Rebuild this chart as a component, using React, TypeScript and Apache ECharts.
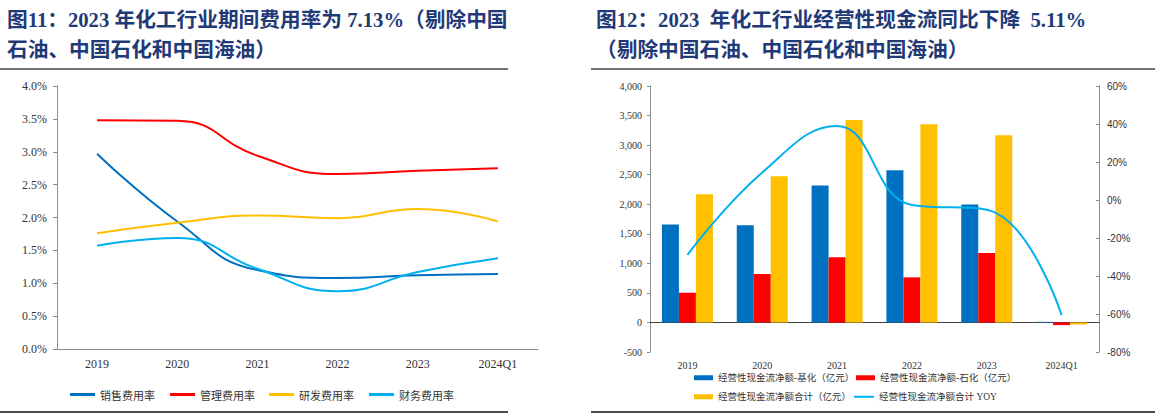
import React, { useEffect, useRef } from "react";
import * as echarts from "echarts";

// ---- Left chart data (期间费用率, %) ----
const leftCategories = ["2019", "2020", "2021", "2022", "2023", "2024Q1"];
const salesRate = [2.97, 1.94, 1.2, 1.08, 1.12, 1.14];
const mgmtRate = [3.48, 3.47, 2.94, 2.66, 2.71, 2.75];
const rdRate = [1.76, 1.92, 2.03, 1.99, 2.13, 1.94];
const finRate = [1.57, 1.69, 1.22, 0.88, 1.17, 1.38];
const leftNames = ["销售费用率", "管理费用率", "研发费用率", "财务费用率"];

// ---- Right chart data (经营性现金流) ----
const rightCategories = ["2019", "2020", "2021", "2022", "2023", "2024Q1"];
const cfBasic = [1656, 1644, 2317, 2576, 1995, 10];
const cfPetro = [503, 819, 1102, 763, 1175, -45];
const cfTotal = [2170, 2475, 3424, 3351, 3165, -35];
const cfYoy = [-28.9, 14.5, 38.9, -2.6, -5.11, -60.5];
const rightNames = [
  "经营性现金流净额-基化（亿元）",
  "经营性现金流净额-石化（亿元）",
  "经营性现金流净额合计（亿元）",
  "经营性现金流净额合计 YOY",
];

const BLUE = "#0070C0";
const RED = "#FF0000";
const YELLOW = "#FFC000";
const CYAN = "#00B0F0";
const TITLE_COLOR = "#1F3A77";
const SERIF = "'Liberation Serif', 'Times New Roman', serif";
const CJK = "'Noto Sans CJK SC', sans-serif";
const TITLE_FONT = "'Liberation Serif', 'Noto Sans CJK SC', serif";
const AXIS_GRAY = "#8c8c8c";

export default function App() {
  const ref = useRef<HTMLDivElement>(null);

  useEffect(() => {
    if (!ref.current) return;
    const chart = echarts.init(ref.current, null, { renderer: "svg" });

    const leftLegend = (name: string, left: number, color: string) => ({
      data: [{ name, itemStyle: { color } }],
      left,
      top: 384,
      icon: "rect",
      itemWidth: 25,
      itemHeight: 3,
      textStyle: { fontSize: 11, color: "#333", fontFamily: CJK },
    });
    const rightLegend = (
      name: string,
      left: number,
      top: number,
      w: number,
      h: number
    ) => ({
      data: [name],
      left,
      top,
      icon: "rect",
      itemWidth: w,
      itemHeight: h,
      textStyle: { fontSize: 9.5, color: "#333", fontFamily: TITLE_FONT },
    });

    const lineSeries = (name: string, data: number[], color: string) => ({
      name,
      type: "line",
      xAxisIndex: 0,
      yAxisIndex: 0,
      data,
      smooth: 0.5,
      symbol: "none",
      lineStyle: { color, width: 2 },
      itemStyle: { color },
    });

    const barSeries = (name: string, data: number[], color: string) => ({
      name,
      type: "bar",
      xAxisIndex: 1,
      yAxisIndex: 1,
      data,
      barWidth: 17,
      barGap: "0%",
      itemStyle: { color },
    });

    const titleStyle = {
      fontFamily: TITLE_FONT,
      fontSize: 20.7,
      fontWeight: "bold",
      color: TITLE_COLOR,
      lineHeight: 30,
    };

    chart.setOption({
      animation: false,
      title: [
        {
          text: "图11：2023 年化工行业期间费用率为 7.13%（剔除中国\n石油、中国石化和中国海油）",
          left: 2,
          top: 0,
          textStyle: titleStyle,
        },
        {
          text: "图12：2023  年化工行业经营性现金流同比下降  5.11%\n（剔除中国石油、中国石化和中国海油）",
          left: 591,
          top: 0,
          textStyle: titleStyle,
        },
      ],
      graphic: [
        { type: "line", shape: { x1: 0, y1: 69, x2: 508, y2: 69 }, style: { stroke: "#444", lineWidth: 1.5 } },
        { type: "line", shape: { x1: 0, y1: 412, x2: 508, y2: 412 }, style: { stroke: "#111", lineWidth: 1.5 } },
        { type: "line", shape: { x1: 591, y1: 69, x2: 1155, y2: 69 }, style: { stroke: "#444", lineWidth: 1.5 } },
        { type: "line", shape: { x1: 591, y1: 412, x2: 1155, y2: 412 }, style: { stroke: "#111", lineWidth: 1.5 } },
      ],
      legend: [
        leftLegend(leftNames[0], 65, BLUE),
        leftLegend(leftNames[1], 165, RED),
        leftLegend(leftNames[2], 264, YELLOW),
        leftLegend(leftNames[3], 364, CYAN),
        rightLegend(rightNames[0], 689, 368, 19, 5),
        rightLegend(rightNames[1], 851, 368, 19, 5),
        rightLegend(rightNames[2], 689, 387, 19, 5),
        rightLegend(rightNames[3], 849, 387, 20, 2),
      ],
      grid: [
        { left: 57, top: 86, width: 481, height: 263 },
        { left: 650, top: 86, width: 449, height: 266 },
      ],
      xAxis: [
        {
          type: "category",
          gridIndex: 0,
          data: leftCategories,
          axisLine: { lineStyle: { color: AXIS_GRAY, width: 1 } },
          axisTick: { inside: true, length: 4, lineStyle: { color: AXIS_GRAY } },
          axisLabel: { fontFamily: SERIF, fontSize: 12, color: "#333", margin: 9 },
        },
        {
          type: "category",
          gridIndex: 1,
          data: rightCategories,
          axisLine: { onZero: true, onZeroAxisIndex: 1, lineStyle: { color: "#404040", width: 1 } },
          axisTick: { inside: true, length: 4, lineStyle: { color: AXIS_GRAY } },
          axisLabel: { fontFamily: SERIF, fontSize: 10, color: "#333", margin: 8 },
        },
      ],
      yAxis: [
        {
          type: "value",
          gridIndex: 0,
          min: 0,
          max: 4,
          interval: 0.5,
          axisLine: { show: true, lineStyle: { color: AXIS_GRAY, width: 1 } },
          axisTick: { show: true, length: 4, lineStyle: { color: AXIS_GRAY } },
          splitLine: { show: false },
          axisLabel: {
            fontFamily: SERIF,
            fontSize: 12,
            color: "#333",
            margin: 10,
            formatter: (v: number) => v.toFixed(1) + "%",
          },
        },
        {
          type: "value",
          gridIndex: 1,
          min: -500,
          max: 4000,
          interval: 500,
          axisLine: { show: true, lineStyle: { color: AXIS_GRAY, width: 1 } },
          axisTick: { show: true, length: 3, lineStyle: { color: AXIS_GRAY } },
          splitLine: { show: false },
          axisLabel: {
            fontFamily: SERIF,
            fontSize: 10,
            color: "#333",
            margin: 8,
            formatter: (v: number) => v.toLocaleString("en-US"),
          },
        },
        {
          type: "value",
          gridIndex: 1,
          position: "right",
          min: -80,
          max: 60,
          interval: 20,
          axisLine: { show: true, lineStyle: { color: AXIS_GRAY, width: 1 } },
          axisTick: { show: true, inside: true, length: 3, lineStyle: { color: AXIS_GRAY } },
          splitLine: { show: false },
          axisLabel: {
            fontFamily: "'Liberation Sans', Arial, sans-serif",
            fontSize: 10,
            color: "#333",
            margin: 8,
            formatter: (v: number) => v + "%",
          },
        },
      ],
      series: [
        lineSeries(leftNames[0], salesRate, BLUE),
        lineSeries(leftNames[1], mgmtRate, RED),
        lineSeries(leftNames[2], rdRate, YELLOW),
        lineSeries(leftNames[3], finRate, CYAN),
        barSeries(rightNames[0], cfBasic, BLUE),
        barSeries(rightNames[1], cfPetro, RED),
        barSeries(rightNames[2], cfTotal, YELLOW),
        {
          name: rightNames[3],
          type: "line",
          xAxisIndex: 1,
          yAxisIndex: 2,
          data: cfYoy,
          smooth: 0.45,
          symbol: "none",
          lineStyle: { color: CYAN, width: 2 },
          itemStyle: { color: CYAN },
        },
      ],
    });

    return () => chart.dispose();
  }, []);

  return (
    <div
      ref={ref}
      style={{ position: "absolute", left: 0, top: 0, width: 1155, height: 418, background: "#fff" }}
    />
  );
}
